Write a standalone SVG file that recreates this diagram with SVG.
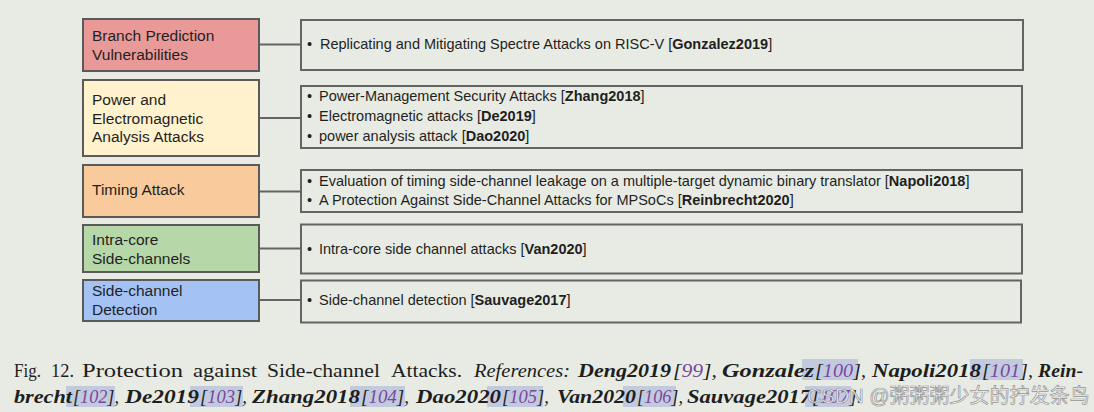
<svg xmlns="http://www.w3.org/2000/svg" width="1094" height="412" viewBox="0 0 1094 412">
<defs>
<style>
.bg{fill:#e7ebe3}
.cat{stroke:#5a5a5a;stroke-width:2}
.lst{fill:none;stroke:#646464;stroke-width:2}
.conn line{stroke:#646464;stroke-width:2}
.ct{font-family:"Liberation Sans",Arial,sans-serif;font-size:15.5px;fill:#1f1f1f}
.it{font-family:"Liberation Sans",Arial,sans-serif;font-size:14.5px;fill:#1f1f1f}
.b{font-weight:bold}
.cap{font-family:"Liberation Serif","Times New Roman",serif;font-size:18px;fill:#1e1e1e}
.i{font-style:italic}
.bi{font-style:italic;font-weight:bold}
.ref{fill:#7a479f;font-weight:normal}
.hl{fill:#b9c2dc;opacity:0.8}
.wm{font-family:"Liberation Sans","Noto Sans CJK SC",sans-serif;font-size:20px;fill:#ffffff;stroke:#8c8c8c;stroke-width:0.7;opacity:0.9}
</style>
</defs>
<rect class="bg" x="0" y="0" width="1094" height="412"/>

<g id="connectors" class="conn">
<line x1="259" y1="44.5" x2="301" y2="44.5"/>
<line x1="259" y1="118" x2="301" y2="118"/>
<line x1="259" y1="191.5" x2="301" y2="191.5"/>
<line x1="259" y1="248.5" x2="301" y2="248.5"/>
<line x1="259" y1="300" x2="301" y2="300"/>
</g>

<g id="cat-branch">
<rect class="cat" x="83" y="19" width="176" height="52" fill="#ea9999"/>
<text class="ct" x="92" y="41">Branch Prediction</text>
<text class="ct" x="92" y="60">Vulnerabilities</text>
</g>
<g id="cat-power">
<rect class="cat" x="83" y="80" width="176" height="76" fill="#fff2cc"/>
<text class="ct" x="92" y="105">Power and</text>
<text class="ct" x="92" y="123.5">Electromagnetic</text>
<text class="ct" x="92" y="142">Analysis Attacks</text>
</g>
<g id="cat-timing">
<rect class="cat" x="83" y="165" width="176" height="52" fill="#f9cb9c"/>
<text class="ct" x="92" y="195">Timing Attack</text>
</g>
<g id="cat-intra">
<rect class="cat" x="83" y="225" width="176" height="47" fill="#b6d7a8"/>
<text class="ct" x="92" y="245">Intra-core</text>
<text class="ct" x="92" y="264">Side-channels</text>
</g>
<g id="cat-detect">
<rect class="cat" x="83" y="280" width="176" height="41" fill="#a4c2f4"/>
<text class="ct" x="92" y="296">Side-channel</text>
<text class="ct" x="92" y="315">Detection</text>
</g>

<g id="list-branch">
<rect class="lst" x="301" y="20" width="722" height="50"/>
<text class="it" x="307" y="49">•</text>
<text class="it" x="320" y="49">Replicating and Mitigating Spectre Attacks on RISC-V [<tspan class="b">Gonzalez2019</tspan>]</text>
</g>
<g id="list-power">
<rect class="lst" x="301" y="86" width="721" height="62"/>
<text class="it" x="307" y="101">•</text>
<text class="it" x="319" y="101">Power-Management Security Attacks [<tspan class="b">Zhang2018</tspan>]</text>
<text class="it" x="307" y="121">•</text>
<text class="it" x="319" y="121">Electromagnetic attacks [<tspan class="b">De2019</tspan>]</text>
<text class="it" x="307" y="141">•</text>
<text class="it" x="319" y="141">power analysis attack [<tspan class="b">Dao2020</tspan>]</text>
</g>
<g id="list-timing">
<rect class="lst" x="301" y="170" width="721" height="42"/>
<text class="it" x="307" y="185.5">•</text>
<text class="it" x="319" y="185.5">Evaluation of timing side-channel leakage on a multiple-target dynamic binary translator [<tspan class="b">Napoli2018</tspan>]</text>
<text class="it" x="307" y="205">•</text>
<text class="it" x="319" y="205">A Protection Against Side-Channel Attacks for MPSoCs [<tspan class="b">Reinbrecht2020</tspan>]</text>
</g>
<g id="list-intra">
<rect class="lst" x="301" y="224.5" width="721" height="49"/>
<text class="it" x="307" y="253.5">•</text>
<text class="it" x="319" y="253.5">Intra-core side channel attacks [<tspan class="b">Van2020</tspan>]</text>
</g>
<g id="list-detect">
<rect class="lst" x="301" y="280.5" width="720" height="42"/>
<text class="it" x="307" y="304.5">•</text>
<text class="it" x="319" y="304.5">Side-channel detection [<tspan class="b">Sauvage2017</tspan>]</text>
</g>

<g id="caption">
<rect class="hl" x="802" y="359" width="56" height="21"/>
<rect class="hl" x="970" y="359" width="53" height="21"/>
<rect class="hl" x="66" y="386" width="49" height="21"/>
<rect class="hl" x="190" y="386" width="53" height="21"/>
<rect class="hl" x="350" y="386" width="55" height="21"/>
<rect class="hl" x="487" y="386" width="56" height="21"/>
<rect class="hl" x="623" y="386" width="53" height="21"/>
<rect class="hl" x="805" y="386" width="46" height="21"/>

<text class="cap" x="14" y="376.5" textLength="27" lengthAdjust="spacingAndGlyphs">Fig.</text>
<text class="cap" x="51" y="376.5" textLength="23" lengthAdjust="spacingAndGlyphs">12.</text>
<text class="cap" x="82" y="376.5" textLength="101" lengthAdjust="spacingAndGlyphs">Protection</text>
<text class="cap" x="193" y="376.5" textLength="64" lengthAdjust="spacingAndGlyphs">against</text>
<text class="cap" x="267" y="376.5" textLength="113" lengthAdjust="spacingAndGlyphs">Side-channel</text>
<text class="cap" x="391" y="376.5" textLength="71" lengthAdjust="spacingAndGlyphs">Attacks.</text>
<text class="cap i" x="474" y="376.5" textLength="96" lengthAdjust="spacingAndGlyphs">References:</text>
<text class="cap bi" x="578" y="376.5" textLength="93" lengthAdjust="spacingAndGlyphs">Deng2019</text>
<text class="cap i" x="673" y="376.5" textLength="44" lengthAdjust="spacingAndGlyphs">[<tspan class="ref">99</tspan>],</text>
<text class="cap bi" x="722" y="376.5" textLength="92" lengthAdjust="spacingAndGlyphs">Gonzalez</text>
<text class="cap i" x="815" y="376.5" textLength="51" lengthAdjust="spacingAndGlyphs">[<tspan class="ref">100</tspan>],</text>
<text class="cap bi" x="872" y="376.5" textLength="109" lengthAdjust="spacingAndGlyphs">Napoli2018</text>
<text class="cap i" x="982" y="376.5" textLength="51" lengthAdjust="spacingAndGlyphs">[<tspan class="ref">101</tspan>],</text>
<text class="cap bi" x="1038" y="376.5" textLength="45" lengthAdjust="spacingAndGlyphs">Rein-</text>

<text class="cap bi" x="14" y="402.5" textLength="58" lengthAdjust="spacingAndGlyphs">brecht</text>
<text class="cap i" x="73" y="402.5" textLength="46" lengthAdjust="spacingAndGlyphs">[<tspan class="ref">102</tspan>],</text>
<text class="cap bi" x="125" y="402.5" textLength="74" lengthAdjust="spacingAndGlyphs">De2019</text>
<text class="cap i" x="200" y="402.5" textLength="47" lengthAdjust="spacingAndGlyphs">[<tspan class="ref">103</tspan>],</text>
<text class="cap bi" x="252" y="402.5" textLength="108" lengthAdjust="spacingAndGlyphs">Zhang2018</text>
<text class="cap i" x="361" y="402.5" textLength="48" lengthAdjust="spacingAndGlyphs">[<tspan class="ref">104</tspan>],</text>
<text class="cap bi" x="416" y="402.5" textLength="85" lengthAdjust="spacingAndGlyphs">Dao2020</text>
<text class="cap i" x="502" y="402.5" textLength="47" lengthAdjust="spacingAndGlyphs">[<tspan class="ref">105</tspan>],</text>
<text class="cap bi" x="557" y="402.5" textLength="79" lengthAdjust="spacingAndGlyphs">Van2020</text>
<text class="cap i" x="637" y="402.5" textLength="46" lengthAdjust="spacingAndGlyphs">[<tspan class="ref">106</tspan>],</text>
<text class="cap bi" x="687" y="402.5" textLength="124" lengthAdjust="spacingAndGlyphs">Sauvage2017</text>
<text class="cap i" x="812" y="402.5" textLength="50" lengthAdjust="spacingAndGlyphs">[<tspan class="ref">107</tspan>].</text>
</g>
<text class="wm" x="807" y="403">CSDN @粥粥粥少女的拧发条鸟</text>
</svg>
